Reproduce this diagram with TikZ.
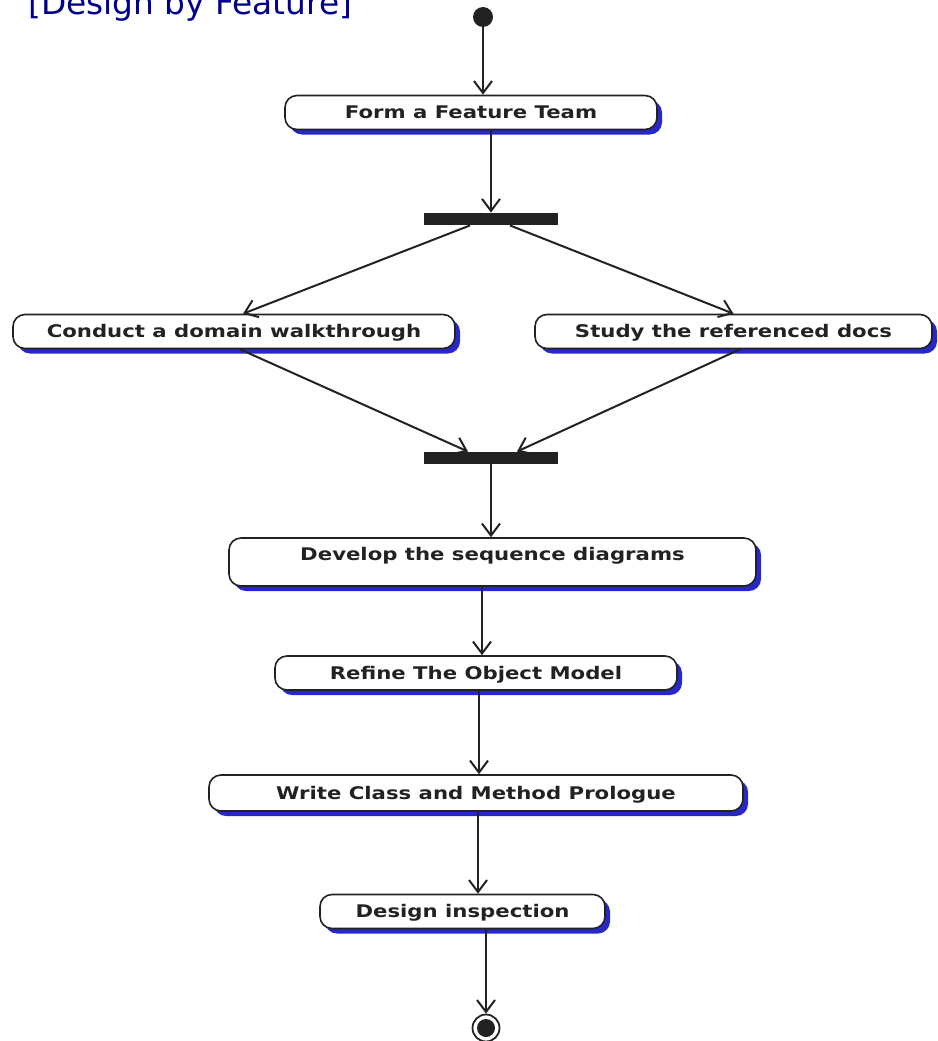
\documentclass[tikz,border=0pt]{standalone}
\usepackage{fontspec}
\setmainfont{DejaVu Sans}
\usetikzlibrary{arrows.meta,shadows,calc}
\definecolor{ink}{RGB}{34,34,34}
\definecolor{shadowblue}{RGB}{40,40,200}
\definecolor{titleblue}{RGB}{0,0,140}
\newcommand{\actlbl}[1]{\scalebox{1.22}[1]{\bfseries #1}}
\begin{document}
\begin{tikzpicture}[x=1pt,y=-1pt,
  act/.style={draw=ink, line width=1.6pt, fill=white, rounded corners=12pt,
    inner xsep=0pt, inner ysep=4pt, text height=19pt, text depth=7pt,
    font=\fontsize{17.4}{18}\selectfont, text=ink,
    drop shadow={shadow xshift=5pt, shadow yshift=-5pt, fill=shadowblue, opacity=1}},
  bar/.style={fill=ink, draw=none, inner sep=0pt, minimum width=134pt, minimum height=12.5pt},
  arr/.style={draw=ink, line width=2pt, -{Straight Barb[length=12pt,width=18pt,line width=2pt]}},
  ln/.style={draw=ink, line width=2pt}]
\useasboundingbox (0,0) rectangle (937,1041);

\node[anchor=base west, inner sep=0pt, text=titleblue] (title) at (28,15)
  {\resizebox{324pt}{!}{[Design by Feature]}};

\node[circle, fill=ink, minimum size=20pt, inner sep=0pt] (start) at (483,17) {};

\node[act, minimum width=372pt] (form) at (471,112.5) {\actlbl{Form a Feature Team}};
\node[bar] (fork) at (491,219) {};
\node[act, minimum width=442pt] (conduct) at (234,331.5) {\actlbl{Conduct a domain walkthrough}};
\node[act, minimum width=397pt] (study) at (733.5,331.5) {\actlbl{Study the referenced docs}};
\node[bar] (join) at (491,458) {};
\node[act, minimum width=527pt, text height=18pt, text depth=22pt] (develop) at (492.5,562) {\actlbl{Develop the sequence diagrams}};
\node[act, minimum width=402pt] (refine) at (476,673) {\actlbl{Refine The Object Model}};
\node[act, minimum width=534pt, text height=20pt, text depth=8pt] (write) at (476,793) {\actlbl{Write Class and Method Prologue}};
\node[act, minimum width=285pt] (design) at (462.5,911.5) {\actlbl{Design inspection}};
\node[circle, draw=ink, line width=1.8pt, minimum size=27pt, inner sep=0pt] (end) at (486,1028) {};
\fill[ink] (end.center) circle (9pt);

\draw[arr] (start) -- (start |- form.north);
\draw[arr] (fork.north |- form.south) -- (fork.north);
\draw[arr] ([xshift=-21pt]fork.south) -- ([xshift=9pt]conduct.north);
\draw[arr] ([xshift=19pt]fork.south) -- (study.north);
\draw[arr] ([xshift=6pt]conduct.south) -- ([xshift=-23pt]join.north);
\draw[arr] ([xshift=6.5pt]study.south) -- ([xshift=26pt]join.north);
\draw[arr] (join.south) -- (join.south |- develop.north);
\draw[arr] ([xshift=-10.5pt]develop.south) -- ([xshift=-10.5pt]develop.south |- refine.north);
\draw[arr] ([xshift=3pt]refine.south) -- ([xshift=3pt]refine.south |- write.north);
\draw[arr] ([xshift=2pt]write.south) -- ([xshift=2pt]write.south |- design.north);
\draw[arr] (end.north |- design.south) -- (end.north);
\end{tikzpicture}
\end{document}
